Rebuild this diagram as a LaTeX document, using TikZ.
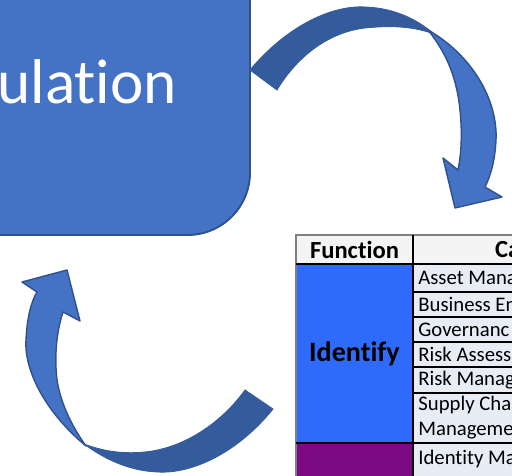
\documentclass[tikz,border=0pt]{standalone}
\usepackage{fontspec}
\setmainfont{Carlito}[Ligatures=NoCommon]
\definecolor{front}{HTML}{4472C4}
\definecolor{back}{HTML}{345B9B}
\definecolor{edge}{HTML}{2F528F}
\definecolor{idblue}{HTML}{2F6BFA}
\definecolor{prpurple}{HTML}{7D0A85}
\definecolor{catfill}{HTML}{E8EDF5}
\definecolor{headfill}{HTML}{F4F4F4}

\begin{document}
\begin{tikzpicture}[x=0.02cm, y=-0.02cm,
        box/.style={draw=edge, line width=1.1pt, fill=front, rounded corners=1.25cm},
        frontside/.style={draw=edge, line width=0.8pt, fill=front, line join=round},
        backside/.style={draw=back, line width=0.5pt, fill=back},
        grid/.style={draw=black, line width=0.7pt},
        head/.style={font=\fontsize{14}{16}\selectfont\bfseries},
        cat/.style={anchor=west, inner sep=0pt, align=left, font=\fontsize{11.8}{14.2}\selectfont}
    ]
        \useasboundingbox (0,0) rectangle (512,476);

        \draw[box] (-200,-200) rectangle (250,235);
        \node[anchor=base west, inner sep=0pt, text=white, font=\fontsize{36}{42}\selectfont] (title) at (-3,104) {ulation};

        % upper arrow, back of the ribbon first
        \draw[backside] (250,70) .. controls (285,28) and (330,5) .. (365,7) .. controls (395,8) and (418,20) .. (434,34) .. controls (410,25) and (385,26) .. (365,28) .. controls (330,32) and (298,55) .. (277,90) -- cycle;
        \draw[frontside] (428,30) .. controls (472,55) and (498,100) .. (496,140) .. controls (495,160) and (491,175) .. (485,187) -- (502,197) -- (455,208) -- (443,158) -- (458,170) .. controls (462,150) and (462,130) .. (460,110) .. controls (457,80) and (448,55) .. (428,30) -- cycle;

        % lower arrow
        \draw[backside] (273,409) .. controls (240,450) and (195,474) .. (158,472) .. controls (128,471) and (103,458) .. (84,444) .. controls (105,452) and (125,454) .. (145,452) .. controls (185,448) and (222,422) .. (245,390) -- cycle;
        \draw[frontside] (86,446) .. controls (45,412) and (24,370) .. (26,340) .. controls (27,318) and (31,302) .. (37,292) -- (22,282) -- (67,270) -- (80,321) -- (63,312) .. controls (57,330) and (54,355) .. (57,380) .. controls (61,405) and (73,428) .. (86,446) -- cycle;

        % table
        \fill[headfill] (296,235) rectangle (560,264);
        \fill[idblue] (296,264) rectangle (413,443);
        \fill[prpurple] (296,443) rectangle (413,490);
        \fill[catfill] (413,264) rectangle (560,490);
        \draw[gray, line width=0.8pt] (296,490) -- (296,235) -- (560,235);
        \draw[grid] (413,235) -- (413,490);
        \draw[grid, line width=1.2pt] (296,264) -- (560,264);
        \draw[grid] (413,292) -- (560,292) (413,317) -- (560,317) (413,342) -- (560,342)
            (413,367) -- (560,367) (413,393) -- (560,393);
        \draw[grid] (296,443) -- (560,443);

        \node[head] (fn) at (354.5,250) {Function};
        \node[head, anchor=west] (ca) at (489,250) {Ca};
        \node[head, font=\fontsize{16}{18}\selectfont\bfseries] (id) at (354.5,354) {Identify};
        \node[cat] (c1) at (418,278) {Asset Mana};
        \node[cat] (c2) at (418,304.5) {Business En};
        \node[cat] (c3) at (418,329.5) {Governanc};
        \node[cat] (c4) at (418,354.5) {Risk Assess};
        \node[cat] (c5) at (418,380) {Risk Manag};
        \node[cat] (c6) at (418,418) {Supply Cha\\Manageme};
        \node[cat] (c7) at (418,459) {Identity Ma};
    \end{tikzpicture}
\end{document}
